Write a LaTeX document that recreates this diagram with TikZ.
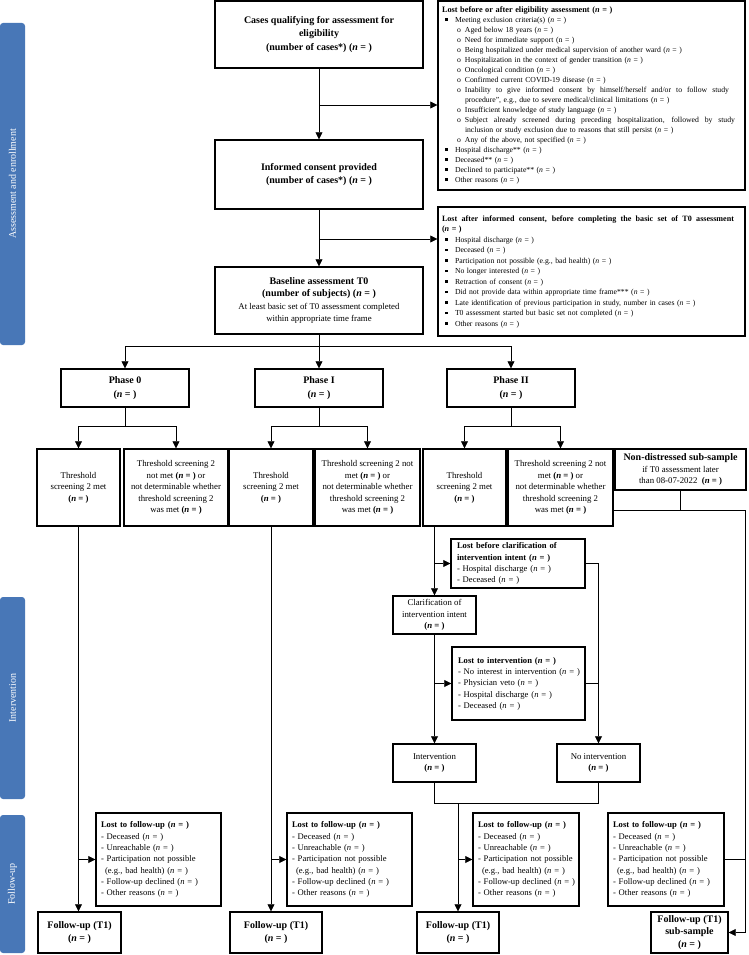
\documentclass[tikz,border=0pt]{standalone}
\usepackage{fontspec}
\setmainfont{Liberation Serif}
\usetikzlibrary{arrows.meta}
\definecolor{barblue}{RGB}{72,119,183}
\newcommand{\nq}{(\textit{n} = )}
\newcommand{\nb}{\textbf{(\textit{n} = )}}
\newcommand{\sqb}{\hspace*{3pt}\makebox[10pt][l]{\rule[1.4pt]{2.6pt}{2.6pt}}}
\newcommand{\subb}{\hspace*{15pt}\makebox[8pt][l]{o}}
\newcommand{\cont}{\hspace*{23pt}}
\newcommand{\rows}[1]{\begin{tabular}{@{}l@{}}#1\end{tabular}}
\newcommand{\just}[2]{{\spaceskip=0.25em plus 2em\relax\hbox to #1{#2}}}
\tikzstyle{box}=[draw, rectangle, line width=1.4pt, align=center, inner sep=2pt, font=\fontsize{8.8}{11.5}\selectfont]
\tikzstyle{head}=[box, font=\fontsize{10}{13.3}\selectfont\bfseries]
\tikzstyle{lost}=[box, align=left, inner xsep=5pt, font=\fontsize{8.6}{11.3}\selectfont]
\tikzstyle{list}=[box, align=left, inner xsep=4pt, font=\fontsize{7.7}{10}\selectfont]
\tikzstyle{line}=[line width=.7pt]
\tikzstyle{arr}=[line, -{Triangle[length=7pt,width=7pt]}]
\tikzstyle{bar}=[fill=barblue, rounded corners=3pt, rotate=90, inner sep=0pt, text=white, font=\fontsize{10}{11}\selectfont]

\begin{document}
\begin{tikzpicture}[x=1pt, y=-1pt]
\useasboundingbox (0,0) rectangle (748,955);
% phases on the left
\foreach \n/\a/\b/\t in {1/23/345/Assessment and enrollment, 2/597/799/Intervention, 3/815/953/Follow-up}
  \node[bar, minimum width={\b-\a}, minimum height=25] (bar\n) at (12.5,{(\a+\b)/2}) {\t};

% enrollment
\node[head, minimum width=208pt, minimum height=67pt] (cases) at (319,34.5) {Cases qualifying for assessment for\\eligibility\\(number of cases*) \nq};
\node[head, minimum width=208pt, minimum height=69pt] (consent) at (319,174.5) {Informed consent provided\\(number of cases*) \nq};
\node[box, minimum width=208pt, minimum height=67pt, font=\fontsize{8.8}{12.3}\selectfont] (base) at (319,300.5)
  {{\fontsize{10}{12.3}\selectfont\bfseries Baseline assessment T0}\\{\fontsize{10}{12.3}\selectfont\bfseries (number of subjects) \nq}\\At least basic set of T0 assessment completed\\within appropriate time frame};
\node[list, text width=299pt, minimum height=189pt] (lostA) at (591.5,95.5) {\rows{\textbf{\fontsize{8.3}{10}\selectfont Lost before or after eligibility assessment \nq}\\
\sqb Meeting exclusion criteria(s) \nq\\
\subb Aged below 18 years \nq\\
\subb Need for immediate support (n = )\\
\subb Being hospitalized under medical supervision of another ward \nq\\
\subb Hospitalization in the context of gender transition \nq\\
\subb Oncological condition \nq\\
\subb Confirmed current COVID-19 disease \nq\\
\subb \just{264pt}{Inability to give informed consent by himself/herself and/or to follow study}\\
\cont procedure'', e.g., due to severe medical/clinical limitations \nq\\
\subb Insufficient knowledge of study language \nq\\
\subb \just{270pt}{Subject already screened during preceding hospitalization, followed by study}\\
\cont inclusion or study exclusion due to reasons that still persist \nq\\
\subb Any of the above, not specified \nq\\
\sqb Hospital discharge** \nq\\
\sqb Deceased** \nq\\
\sqb Declined to participate** \nq\\
\sqb Other reasons \nq}};
\node[list, text width=299pt, minimum height=129pt, font=\fontsize{7.7}{10.5}\selectfont] (lostB) at (591.5,271.5) {\rows{\textbf{\fontsize{8.1}{10.5}\selectfont \just{292pt}{Lost after informed consent, before completing the basic set of T0 assessment}}\\
\textbf{\fontsize{8.1}{10.5}\selectfont \nq}\\
\sqb Hospital discharge \nq\\
\sqb Deceased \nq\\
\sqb Participation not possible (e.g., bad health) \nq\\
\sqb No longer interested \nq\\
\sqb Retraction of consent \nq\\
\sqb Did not provide data within appropriate time frame*** \nq\\
\sqb Late identification of previous participation in study, number in cases \nq\\
\sqb T0 assessment started but basic set not completed \nq\\
\sqb Other reasons \nq}};

% phases
\foreach \p/\x/\t in {p0/125/Phase 0, p1/319/Phase I, p2/511/Phase II}
  \node[head, minimum width=128pt, minimum height=38pt] (\p) at (\x,388) {\t\\\nq};

% screening
\node[box, minimum width=83pt, minimum height=77pt] (met0) at (78.5,487.5) {Threshold\\screening 2 met\\\nb};
\node[box, minimum width=104pt, minimum height=77pt] (not0) at (176,487.5) {Threshold screening 2\\not met \nb{} or\\not determinable whether\\threshold screening 2\\was met \nb};
\node[box, minimum width=84pt, minimum height=77pt] (met1) at (271,487.5) {Threshold\\screening 2 met\\\nb};
\node[box, minimum width=105pt, minimum height=77pt] (not1) at (367.5,487.5) {Threshold screening 2 not\\met \nb{} or\\not determinable whether\\threshold screening 2\\was met \nb};
\node[box, minimum width=83pt, minimum height=77pt] (met2) at (464.5,487.5) {Threshold\\screening 2 met\\\nb};
\node[box, minimum width=105pt, minimum height=77pt] (not2) at (560.5,487.5) {Threshold screening 2 not\\met \nb{} or\\not determinable whether\\threshold screening 2\\was met \nb};
\node[box, minimum width=131pt, minimum height=41pt] (nds) at (680.5,469.5) {{\fontsize{10}{12}\selectfont\bfseries Non-distressed sub-sample}\\if T0 assessment later\\than 08-07-2022~~\nb};

% intervention
\node[lost, text width=122pt, inner xsep=6pt, minimum height=47pt] (lostC) at (518,563.5) {\rows{\textbf{Lost before clarification of}\\\textbf{intervention intent \nq}\\- Hospital discharge \nq\\- Deceased \nq}};
\node[box, minimum width=83pt, minimum height=38pt] (clar) at (434.5,615) {Clarification of\\intervention intent\\\nb};
\node[lost, text width=121pt, inner xsep=6pt, minimum height=73pt] (lostD) at (518.5,683.5) {\rows{\textbf{Lost to intervention \nq}\\- No interest in intervention \nq\\- Physician veto \nq\\- Hospital discharge \nq\\- Deceased \nq}};
\node[box, minimum width=83pt, minimum height=38pt] (interv) at (434.5,763) {Intervention\\\nb};
\node[box, minimum width=83pt, minimum height=38pt] (nointerv) at (598.5,763) {No intervention\\\nb};

% follow-up
\foreach \n/\x/\w in {0/158.5/115, 1/349.5/115, 2/526/96, 3/666/106}
  \node[lost, text width=\w pt, minimum height=93pt] (lf\n) at (\x,859.5) {\rows{\textbf{Lost to follow-up \nq}\\- Deceased \nq\\- Unreachable \nq\\- Participation not possible\\\hspace*{4pt}(e.g., bad health) \nq\\- Follow-up declined \nq\\- Other reasons \nq}};
\node[head, minimum width=83pt, minimum height=41pt] (fu0) at (79.5,932.5) {Follow-up (T1)\\\nq};
\node[head, minimum width=92pt, minimum height=41pt] (fu1) at (276,932.5) {Follow-up (T1)\\\nq};
\node[head, minimum width=82pt, minimum height=41pt] (fu2) at (458,932.5) {Follow-up (T1)\\\nq};
\node[head, minimum width=77pt, minimum height=41pt, font=\fontsize{10}{12.5}\selectfont\bfseries] (fu3) at (689.5,932.5) {Follow-up (T1)\\sub-sample\\\nq};

% connectors
\coordinate (c1) at (319,105);
\coordinate (c2) at (319,239);
\coordinate (c3) at (319,346);
\draw[arr] (cases) -- (consent);
\draw[arr] (c1) -- (c1 -| lostA.west);
\draw[arr] (consent) -- (base);
\draw[arr] (c2) -- (c2 -| lostB.west);
\draw[line] (base) -- (c3);
\foreach \p in {p0,p1,p2}
  \draw[arr] (c3) -| (\p);
\foreach \p/\a/\b in {p0/met0/not0, p1/met1/not1, p2/met2/not2} {
  \draw[line] (\p.south) -- ++(0,19) coordinate (j\p);
  \draw[arr] (j\p) -| (\a);
  \draw[arr] (j\p) -| (\b);
}
\draw[arr] (met0) -- (met0 |- fu0.north);
\draw[arr] (met0 |- lf0.west) -- (lf0.west);
\draw[arr] (met1) -- (met1 |- fu1.north);
\draw[arr] (met1 |- lf1.west) -- (lf1.west);
\draw[arr] (met2.south -| clar.north) -- (clar.north);
\draw[arr] (clar.north |- lostC.west) -- (lostC.west);
\draw[arr] (lostC.east) -| (nointerv.north);
\draw[line] (lostD.east) -- (lostD.east -| nointerv.north);
\draw[arr] (clar) -- (interv);
\draw[arr] (clar.south |- lostD.west) -- (lostD.west);
\coordinate (j4) at (458,803);
\draw[line] (interv.south) |- (j4) -| (nointerv.south);
\draw[arr] (j4) -- (j4 |- fu2.north);
\draw[arr] (j4 |- lf2.west) -- (lf2.west);
\coordinate (j5) at (745,510);
\draw[line] (not2.east |- j5) -- (j5);
\draw[line] (nds) -- (nds |- j5);
\draw[arr] (j5) |- (fu3.east);
\draw[line] (lf3.east) -- (lf3.east -| j5);
\end{tikzpicture}
\end{document}
